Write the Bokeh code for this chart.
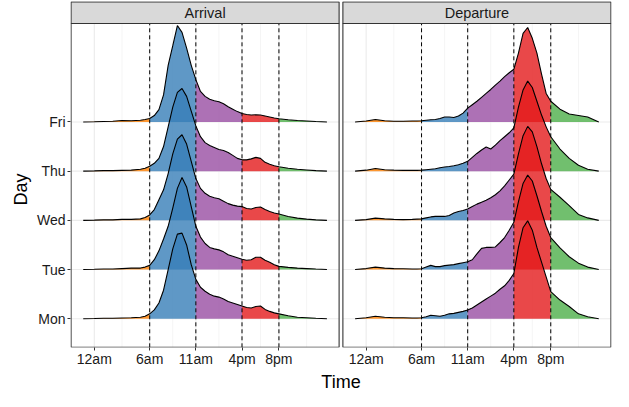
from bokeh.plotting import figure
from bokeh.models import FixedTicker, Title
from bokeh.core.properties import value
from bokeh.embed import file_html
from bokeh.resources import INLINE

# ---------------- data ----------------
days = ["Mon", "Tue", "Wed", "Thu", "Fri"]
facets = ["Arrival", "Departure"]

hours = [-1.2, 0, 1, 2, 3, 4, 5, 5.5, 6, 6.5, 7, 7.5, 8, 8.5, 9, 9.5, 10, 10.5,
         11, 11.5, 12, 12.5, 13, 13.5, 14, 14.5, 15, 15.5, 16, 16.5, 17, 17.5,
         18, 18.5, 19, 19.5, 20, 21, 22, 23, 24, 25.2]

tick_hours = [0, 6, 11, 16, 20]
tick_labels = ["12am", "6am", "11am", "4pm", "8pm"]
minor_hours = [3, 8.5, 13.5, 18, 23]
cut_hours = [6, 11, 16, 20]
segment_colors = ["#FF7F00", "#377EB8", "#984EA3", "#E41A1C", "#4DAF4A"]

# ridge heights (in units of day spacing)
arrival_mon = [0, 0.005, 0.01, 0.01, 0.015, 0.02, 0.03, 0.05, 0.1, 0.18, 0.32, 0.58, 1.0, 1.42,
               1.72, 1.74, 1.5, 1.1, 0.8, 0.64, 0.56, 0.5, 0.46, 0.44, 0.4, 0.35, 0.32, 0.29,
               0.26, 0.23, 0.22, 0.25, 0.26, 0.19, 0.15, 0.12, 0.1, 0.06, 0.03, 0.02, 0.01, 0]
arrival_tue = [0, 0.005, 0.01, 0.01, 0.02, 0.03, 0.03, 0.05, 0.085, 0.2, 0.38, 0.62, 0.88, 1.25,
               1.65, 1.87, 1.68, 1.28, 0.88, 0.66, 0.53, 0.45, 0.42, 0.40, 0.36, 0.30, 0.27, 0.24,
               0.21, 0.19, 0.2, 0.25, 0.25, 0.19, 0.15, 0.1, 0.065, 0.045, 0.03, 0.02, 0.01, 0]
arrival_wed = [0, 0.005, 0.01, 0.01, 0.02, 0.02, 0.03, 0.06, 0.11, 0.22, 0.42, 0.62, 0.95, 1.35,
               1.65, 1.74, 1.55, 1.2, 0.85, 0.65, 0.55, 0.49, 0.46, 0.44, 0.39, 0.34, 0.31, 0.29,
               0.28, 0.24, 0.23, 0.26, 0.27, 0.22, 0.18, 0.15, 0.13, 0.08, 0.045, 0.025, 0.01, 0]
arrival_thu = [0, 0.005, 0.01, 0.01, 0.015, 0.02, 0.04, 0.06, 0.1, 0.16, 0.26, 0.5, 0.9, 1.3,
               1.6, 1.68, 1.52, 1.22, 0.92, 0.7, 0.58, 0.52, 0.48, 0.44, 0.42, 0.38, 0.32, 0.26,
               0.23, 0.23, 0.25, 0.28, 0.26, 0.18, 0.14, 0.11, 0.09, 0.06, 0.04, 0.025, 0.01, 0]
arrival_fri = [0, 0.005, 0.01, 0.015, 0.03, 0.025, 0.035, 0.05, 0.07, 0.13, 0.25, 0.55, 1.15, 1.55,
               1.96, 1.82, 1.5, 1.15, 0.86, 0.62, 0.52, 0.46, 0.43, 0.41, 0.37, 0.31, 0.26, 0.21,
               0.17, 0.15, 0.14, 0.145, 0.14, 0.12, 0.1, 0.08, 0.065, 0.045, 0.03, 0.02, 0.01, 0]

departure_mon = [0, 0.02, 0.05, 0.03, 0.02, 0.02, 0.015, 0.015, 0.02, 0.04, 0.07, 0.06, 0.05, 0.07,
                 0.1, 0.11, 0.13, 0.15, 0.18, 0.22, 0.28, 0.34, 0.4, 0.46, 0.52, 0.6, 0.67, 0.78,
                 0.92, 1.45, 1.85, 1.99, 1.8, 1.45, 1.15, 0.85, 0.55, 0.38, 0.25, 0.1, 0.04, 0]
departure_tue = [0, 0.02, 0.05, 0.03, 0.02, 0.015, 0.01, 0.01, 0.015, 0.05, 0.085, 0.06, 0.06, 0.08,
                 0.09, 0.1, 0.12, 0.14, 0.16, 0.2, 0.32, 0.43, 0.45, 0.45, 0.46, 0.55, 0.65, 0.8,
                 0.96, 1.38, 1.75, 1.92, 1.8, 1.5, 1.18, 0.88, 0.65, 0.44, 0.26, 0.13, 0.05, 0]
departure_wed = [0, 0.015, 0.045, 0.03, 0.02, 0.015, 0.02, 0.025, 0.03, 0.05, 0.07, 0.08, 0.08, 0.08,
                 0.1, 0.15, 0.18, 0.2, 0.23, 0.28, 0.33, 0.37, 0.41, 0.46, 0.52, 0.6, 0.7, 0.82,
                 0.94, 1.35, 1.72, 1.91, 1.8, 1.5, 1.15, 0.85, 0.63, 0.47, 0.3, 0.12, 0.05, 0]
departure_thu = [0, 0.02, 0.055, 0.03, 0.02, 0.015, 0.015, 0.015, 0.02, 0.03, 0.04, 0.05, 0.07, 0.085,
                 0.095, 0.11, 0.13, 0.16, 0.2, 0.28, 0.36, 0.43, 0.49, 0.45, 0.53, 0.62, 0.7, 0.78,
                 0.88, 1.3, 1.65, 1.83, 1.7, 1.42, 1.14, 0.9, 0.7, 0.45, 0.26, 0.12, 0.04, 0]
departure_fri = [0, 0.02, 0.05, 0.025, 0.015, 0.015, 0.02, 0.02, 0.025, 0.035, 0.045, 0.05, 0.07, 0.1,
                 0.1, 0.09, 0.12, 0.18, 0.28, 0.35, 0.42, 0.5, 0.58, 0.66, 0.75, 0.83, 0.92, 1.0,
                 1.07, 1.4, 1.8, 1.92, 1.7, 1.4, 0.97, 0.58, 0.42, 0.26, 0.16, 0.13, 0.1, 0]

arrival = [arrival_mon, arrival_tue, arrival_wed, arrival_thu, arrival_fri]
departure = [departure_mon, departure_tue, departure_wed, departure_thu, departure_fri]
facet_data = [arrival, departure]

# ---------------- layout constants ----------------
X_LO, X_HI = -2.52, 26.52      # panel x limits (hours)
OFFSET = 29.45                 # x shift of the second panel
Y_LO, Y_HI = 0.42, 7.0         # panel y limits
STRIP_H = 0.44                 # strip height in y units

FONT = "Liberation Sans"

p = figure(width=613, height=391,
           x_range=(X_LO - 0.06, OFFSET + X_HI + 0.06),
           y_range=(Y_LO - 0.004, Y_HI + STRIP_H + 0.008),
           output_backend="svg", toolbar_location=None,
           min_border_left=70, min_border_right=2, min_border_top=1, min_border_bottom=0)
p.xgrid.visible = False
p.ygrid.visible = False
p.outline_line_color = None
p.background_fill_color = "white"
p.border_fill_color = "white"

# axes
xt = [float(h + k * OFFSET) for k in range(2) for h in tick_hours]
p.xaxis.ticker = FixedTicker(ticks=xt)
p.xaxis.major_label_overrides = {float(h + k * OFFSET): lab
                                 for k in range(2) for h, lab in zip(tick_hours, tick_labels)}
p.yaxis.ticker = FixedTicker(ticks=[1, 2, 3, 4, 5])
p.yaxis.major_label_overrides = {i + 1: d for i, d in enumerate(days)}
for ax in (p.xaxis, p.yaxis):
    ax.axis_line_color = None
    ax.major_tick_in = 0
    ax.major_tick_out = 3
    ax.major_tick_line_color = "#333333"
    ax.minor_tick_line_color = None
    ax.major_label_text_font = FONT
    ax.major_label_text_font_size = "14px"
    ax.major_label_text_color = "#1A1A1A"
p.xaxis.major_label_standoff = 0
p.yaxis.major_label_standoff = 2

p.add_layout(Title(text="Time", align="center", text_font=FONT, text_font_size="18px",
                   text_font_style="normal", text_color="black", standoff=0, offset=5), "below")
p.add_layout(Title(text="Day", align="left", text_font=FONT, text_font_size="18px",
                   text_font_style="normal", text_color="black", standoff=6, offset=142), "left")

for k, facet in enumerate(facets):
    off = k * OFFSET
    # grid
    p.segment(x0=[h + off for h in minor_hours], y0=Y_LO, x1=[h + off for h in minor_hours], y1=Y_HI,
              line_color="#F2F2F2", line_width=0.8)
    p.segment(x0=[h + off for h in tick_hours], y0=Y_LO, x1=[h + off for h in tick_hours], y1=Y_HI,
              line_color="#EBEBEB", line_width=1.1)
    p.segment(x0=X_LO + off, y0=[1, 2, 3, 4, 5], x1=X_HI + off, y1=[1, 2, 3, 4, 5],
              line_color="#EBEBEB", line_width=1.1)

    # ridges, top (Fri) first so lower ones overlay
    bounds = [hours[0]] + cut_hours + [hours[-1]]
    for di in range(len(days) - 1, -1, -1):
        base = di + 1
        vals = facet_data[k][di]
        for si in range(len(bounds) - 1):
            a, b = bounds[si], bounds[si + 1]
            xs = [h + off for h in hours if a <= h <= b]
            ys = [base + v for h, v in zip(hours, vals) if a <= h <= b]
            p.varea(x=xs, y1=[base] * len(xs), y2=ys,
                    fill_color=segment_colors[si], fill_alpha=0.8)
        p.line(x=[h + off for h in hours], y=[base + v for v in vals],
               line_color="black", line_width=1.1)

    # dashed cut lines
    p.segment(x0=[h + off for h in cut_hours], y0=Y_LO, x1=[h + off for h in cut_hours], y1=Y_HI,
              line_color="black", line_width=1, line_dash="4 3")

    # panel border
    p.quad(left=X_LO + off, right=X_HI + off, bottom=Y_LO, top=Y_HI,
           fill_color=None, line_color="#333333", line_width=1.1)
    # strip
    p.quad(left=X_LO + off, right=X_HI + off, bottom=Y_HI, top=Y_HI + STRIP_H,
           fill_color="#D9D9D9", line_color="#333333", line_width=1.1)
    p.text(x=[(X_LO + X_HI) / 2 + off], y=[Y_HI + STRIP_H / 2], text=[facet],
           text_align="center", text_baseline="middle",
           text_font=value(FONT), text_font_size="14.5px", text_color="#1A1A1A")

open("out.html", "w").write(file_html(p, INLINE))
